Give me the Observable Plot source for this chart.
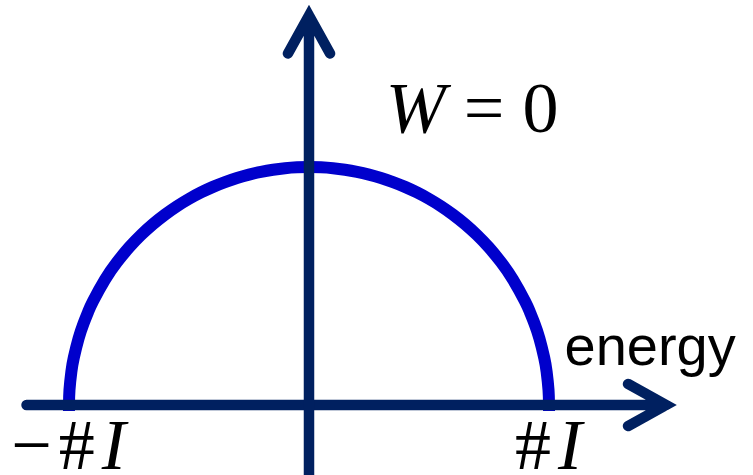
<!DOCTYPE html>
<html>
<head>
<meta charset="utf-8">
<script src="https://cdn.jsdelivr.net/npm/d3@7"></script>
<script src="https://cdn.jsdelivr.net/npm/@observablehq/plot@0.6"></script>
<style>
  html, body { margin: 0; padding: 0; background: #fff; overflow: hidden; }
  #chart svg { display: block; }
</style>
</head>
<body>
<div id="chart"></div>
<script>
// Semicircular density of states, energy in units of the band half-width
const energies = [-1, -0.998, -0.99, -0.98, -0.96, -0.94, -0.92, -0.9, -0.85, -0.8, -0.75, -0.7, -0.65, -0.6,
                  -0.55, -0.5, -0.45, -0.4, -0.35, -0.3, -0.25, -0.2, -0.15, -0.1, -0.05,
                  0, 0.05, 0.1, 0.15, 0.2, 0.25, 0.3, 0.35, 0.4, 0.45, 0.5, 0.55, 0.6, 0.65, 0.7, 0.75,
                  0.8, 0.85, 0.9, 0.92, 0.94, 0.96, 0.98, 0.99, 0.998, 1];
const density  = [0, 0.0632, 0.1411, 0.1990, 0.2800, 0.3412, 0.3919, 0.4359, 0.5268, 0.6000, 0.6614, 0.7141,
                  0.7599, 0.8000, 0.8352, 0.8660, 0.8930, 0.9165, 0.9367, 0.9539, 0.9682, 0.9798, 0.9887,
                  0.9950, 0.9987,
                  1, 0.9987, 0.9950, 0.9887, 0.9798, 0.9682, 0.9539, 0.9367, 0.9165, 0.8930, 0.8660, 0.8352,
                  0.8000, 0.7599, 0.7141, 0.6614, 0.6000, 0.5268, 0.4359, 0.3919, 0.3412, 0.2800, 0.1990,
                  0.1411, 0.0632, 0];

// Tick labels at the band edges
const tickPositions = [-1, 1];
const tickLabels = ["\u2212#I", "#I"];

// Annotations
const axisTitle = "energy";
const curveLabel = "W = 0";

// Axis extents (data units)
const xAxisExtent = [-1.177, 1.4875];
const yAxisExtent = [-0.32, 1.6366];

const curve = energies.map((e, i) => ({energy: e, dos: density[i]}));
const ticks = tickPositions.map((p, i) => ({x: p, label: tickLabels[i]}));
const axes = [
  {x1: xAxisExtent[0], y1: 0, x2: xAxisExtent[1], y2: 0},
  {x1: 0, y1: yAxisExtent[0], x2: 0, y2: yAxisExtent[1]}
];

const navy = "#002060";
const blue = "#0000CC";
const serif = "'Liberation Serif', 'Times New Roman', serif";

const chart = Plot.plot({
  width: 753,
  height: 475,
  margin: 0,
  style: {background: "#fff"},
  x: {domain: [-1.2854, 1.8521], axis: null},
  y: {domain: [-0.2962, 1.6996], axis: null},
  marks: [
    Plot.line(curve, {x: "energy", y: "dos", stroke: blue, strokeWidth: 12,
      curve: "natural", strokeLinecap: "square"}),
    Plot.arrow(axes, {x1: "x1", y1: "y1", x2: "x2", y2: "y2", stroke: navy, strokeWidth: 10.5,
      headLength: 6.2, headAngle: 58, strokeLinejoin: "miter", strokeMiterlimit: 4, strokeLinecap: "round"}),
    Plot.text(ticks, {x: "x", y: 0, text: "label", dy: 64, lineAnchor: "bottom", textAnchor: "middle",
      fontSize: 72, fontFamily: serif, fill: "#000", className: "ticktext"}),
    Plot.text([curveLabel], {x: 0.32, y: 1.145, text: d => d, lineAnchor: "bottom", textAnchor: "start",
      fontSize: 72, fontFamily: serif, fill: "#000", className: "mathtext"}),
    Plot.text([axisTitle], {x: 1.0646, y: 0.166, text: d => d, lineAnchor: "bottom", textAnchor: "start",
      fontSize: 56, fontFamily: "'Liberation Sans', Arial, sans-serif", fill: "#000"})
  ]
});

// Italicize variable letters in math labels
function italicize(sel) {
  sel.each(function() {
    const s = this.textContent;
    const t = d3.select(this);
    t.text(null);
    for (const ch of s) {
      const span = t.append("tspan").text(ch);
      if (ch === "I" || ch === "W") span.attr("font-style", "italic");
    }
  });
}
italicize(d3.select(chart).selectAll(".mathtext text"));
italicize(d3.select(chart).selectAll(".ticktext text").attr("letter-spacing", "7px").attr("dx", 3));

document.getElementById("chart").appendChild(chart);
</script>
</body>
</html>
